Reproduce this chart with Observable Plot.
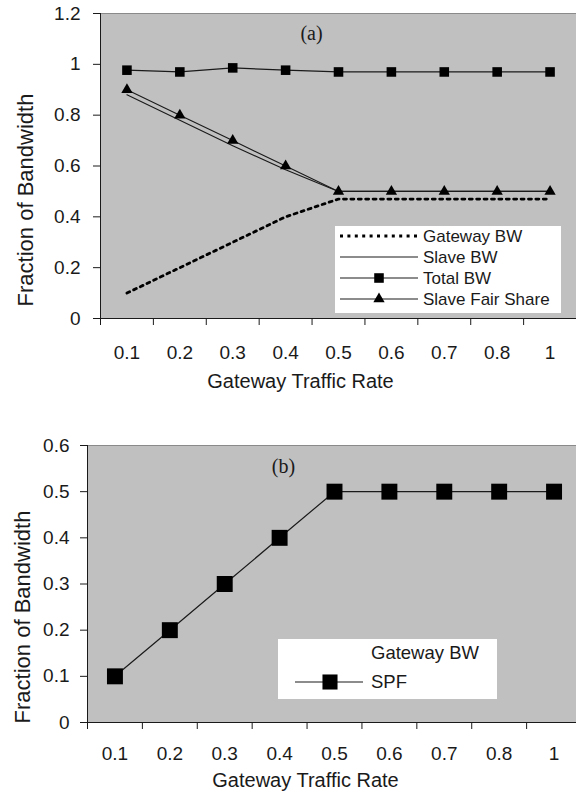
<!DOCTYPE html>
<html><head><meta charset="utf-8">
<script src="https://cdn.jsdelivr.net/npm/d3@7"></script>
<script src="https://cdn.jsdelivr.net/npm/@observablehq/plot@0.6"></script>
<style>body{margin:0;background:#fff;} #chart svg{display:block;}</style>
</head><body><div id="chart"></div>
<script>
// ---- data ----
const rateLabels = ["0.1","0.2","0.3","0.4","0.5","0.6","0.7","0.8","1"];
const gatewayBW = [0.10,0.20,0.30,0.40,0.47,0.47,0.47,0.47,0.47];
const slaveBW = [0.88,0.78,0.68,0.585,0.50,0.50,0.50,0.50,0.50];
const totalBW = [0.977,0.970,0.986,0.977,0.970,0.970,0.970,0.970,0.970];
const slaveFairShare = [0.90,0.80,0.70,0.60,0.50,0.50,0.50,0.50,0.50];
const spfGatewayBW = [0.10,0.20,0.30,0.40,0.50,0.50,0.50,0.50,0.50];
const yTicksA = [0,0.2,0.4,0.6,0.8,1,1.2];
const yTicksB = [0,0.1,0.2,0.3,0.4,0.5,0.6];
const legendA = ["Gateway BW","Slave BW","Total BW","Slave Fair Share"];
const legendB = ["Gateway BW","SPF"];
const xTitle = "Gateway Traffic Rate";
const yTitle = "Fraction of Bandwidth";

const idx = rateLabels.map((_, i) => i + 1);
const bounds = d3.range(0, rateLabels.length + 1).map(i => i + 0.5);
const rowsA = idx.map((x, i) => ({x, gw: gatewayBW[i], sl: slaveBW[i], tot: totalBW[i], fair: slaveFairShare[i]}));
const rowsB = idx.map((x, i) => ({x, spf: spfGatewayBW[i]}));

const SANS = "'Liberation Sans', Arial, Helvetica, sans-serif";
const SERIF = "'Liberation Serif', 'Times New Roman', serif";
const INK = "#1a1a1a";
const BG = "#c0c0c0";
const DASH = "3,4.4";

const txt = {textAnchor: "middle", lineAnchor: "middle", fill: INK};

const A = Plot.plot({
  width: 576, height: 393,
  marginTop: 13, marginBottom: 75, marginLeft: 100, marginRight: 0,
  x: {domain: [0.5, 9.5], label: null},
  y: {domain: [0, 1.2], label: null},
  style: {fontFamily: SANS, fontSize: "19px", color: INK, background: "white", overflow: "visible"},
  marks: [
    Plot.frame({fill: BG}),
    Plot.ruleY([1.2], {stroke: "#8a8a8a"}),
    Plot.line(rowsA, {x: "x", y: "gw", stroke: "#000", strokeWidth: 2.8, strokeDasharray: DASH}),
    Plot.line(rowsA, {x: "x", y: "sl", stroke: INK, strokeWidth: 1.1}),
    Plot.line(rowsA, {x: "x", y: "fair", stroke: INK, strokeWidth: 1.1}),
    Plot.line(rowsA, {x: "x", y: "tot", stroke: INK, strokeWidth: 1.2}),
    Plot.dot(rowsA, {x: "x", y: "tot", symbol: "square", r: 5.4, fill: "#000", stroke: "none"}),
    Plot.dot(rowsA, {x: "x", y: "fair", symbol: "triangle", r: 4.2, fill: "#000", stroke: "none"}),
    Plot.ruleX([0.5], {stroke: INK}),
    Plot.ruleY([0], {stroke: INK}),
    Plot.axisY(yTicksA, {tickSize: 7, tickPadding: 13, tickFormat: d => String(d), label: null}),
    Plot.axisX(bounds, {tickSize: 7, tickFormat: () => "", label: null}),
    Plot.axisX(idx, {tickSize: 0, tickPadding: 27, tickFormat: i => rateLabels[i - 1], label: null}),
    Plot.text([yTitle], {...txt, frameAnchor: "left", rotate: -90, dx: -75, dy: 34, fontSize: 22}),
    Plot.text([xTitle], {...txt, frameAnchor: "bottom", dx: -38, dy: 63, fontSize: 20}),
    Plot.text(["(a)"], {...txt, frameAnchor: "top", dx: -27, dy: 20, fontSize: 20, fontFamily: SERIF})
  ]
});

const B = Plot.plot({
  width: 576, height: 400,
  marginTop: 52, marginBottom: 71, marginLeft: 87, marginRight: -5,
  x: {domain: [0.5, 9.5], label: null},
  y: {domain: [0, 0.6], label: null},
  style: {fontFamily: SANS, fontSize: "19px", color: INK, background: "white", overflow: "hidden"},
  marks: [
    Plot.frame({fill: BG}),
    Plot.ruleY([0.6], {stroke: "#8a8a8a"}),
    Plot.line(rowsB, {x: "x", y: "spf", stroke: INK, strokeWidth: 1.2}),
    Plot.dot(rowsB, {x: "x", y: "spf", symbol: "square", r: 9, fill: "#000", stroke: "none"}),
    Plot.ruleX([0.5], {stroke: INK}),
    Plot.ruleY([0], {stroke: INK}),
    Plot.axisY(yTicksB, {tickSize: 7, tickPadding: 11, tickFormat: d => String(d), label: null}),
    Plot.axisX(bounds, {tickSize: 7, tickFormat: () => "", label: null}),
    Plot.axisX(idx, {tickSize: 0, tickPadding: 24, tickFormat: i => rateLabels[i - 1], label: null}),
    Plot.text([yTitle], {...txt, frameAnchor: "left", rotate: -90, dx: -65, dy: 33, fontSize: 22}),
    Plot.text([xTitle], {...txt, frameAnchor: "bottom", dx: -29, dy: 58, fontSize: 20}),
    Plot.text(["(b)"], {...txt, frameAnchor: "top", dx: -51, dy: 21, fontSize: 20, fontFamily: SERIF})
  ]
});

// ---- legends (layout boxes) ----
function addLegend(svg, box, rows, fontSize) {
  const g = d3.select(svg).append("g").attr("text-anchor", "start");
  g.append("rect").attr("x", box.x).attr("y", box.y).attr("width", box.w).attr("height", box.h).attr("fill", "white");
  rows.forEach(r => {
    if (r.line) {
      g.append("line").attr("x1", box.lx1).attr("x2", box.lx2).attr("y1", r.y).attr("y2", r.y)
        .attr("stroke", r.dash ? "#000" : INK).attr("stroke-width", r.dash ? 2.8 : 1.1)
        .attr("stroke-dasharray", r.dash ? DASH : null);
    }
    if (r.symbol) {
      g.append("path").attr("d", d3.symbol(r.symbol, Math.PI * r.r * r.r)())
        .attr("transform", `translate(${box.mx},${r.y})`).attr("fill", "#000");
    }
    g.append("text").attr("x", box.tx).attr("y", r.y).attr("dy", "0.35em").attr("text-anchor", "start")
      .attr("font-family", SANS).attr("font-size", fontSize).attr("fill", INK).text(r.label);
  });
}

addLegend(A, {x: 335, y: 226, w: 226, h: 87, lx1: 340, lx2: 418, mx: 379, tx: 423}, [
  {y: 236, label: legendA[0], line: true, dash: true},
  {y: 257, label: legendA[1], line: true},
  {y: 278, label: legendA[2], line: true, symbol: d3.symbolSquare, r: 5.4},
  {y: 299, label: legendA[3], line: true, symbol: d3.symbolTriangle, r: 4.2}
], 17);

addLegend(B, {x: 278, y: 246, w: 219, h: 60, lx1: 295, lx2: 363, mx: 330, tx: 371}, [
  {y: 260, label: legendB[0], line: false},
  {y: 289, label: legendB[1], line: true, symbol: d3.symbolSquare, r: 8.5}
], 18.5);

document.getElementById("chart").append(A, B);
</script>
</body></html>
